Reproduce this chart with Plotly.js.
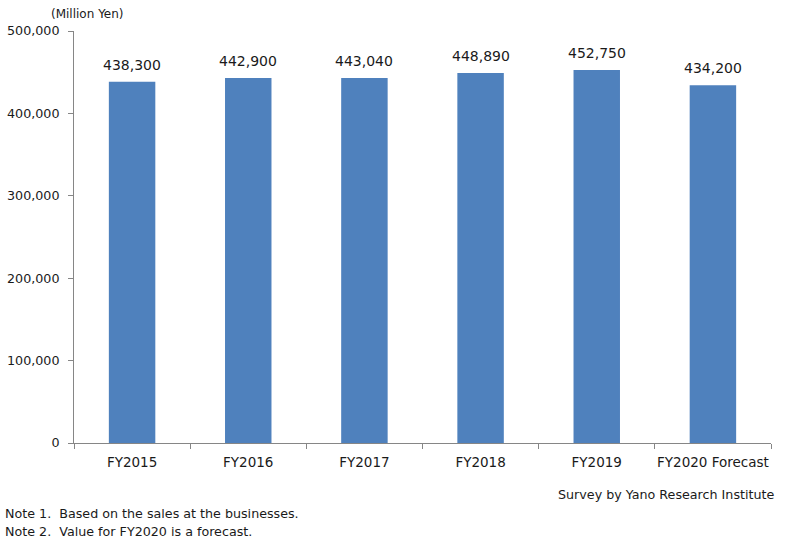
<!DOCTYPE html>
<html>
<head>
<meta charset="utf-8">
<script src="https://cdn.plot.ly/plotly-3.0.1.min.js"></script>
<style>html,body{margin:0;padding:0;background:#fff;}#chart{width:785px;height:543px;}</style>
</head>
<body>
<div id="chart"></div>
<script>
const categories = ["FY2015", "FY2016", "FY2017", "FY2018", "FY2019", "FY2020 Forecast"];
const values = [438300, 442900, 443040, 448890, 452750, 434200];
const yTickVals = [0, 100000, 200000, 300000, 400000, 500000];
const yTickText = ["0", "100,000", "200,000", "300,000", "400,000", "500,000"];
const unitLabel = "(Million Yen)";
const sourceNote = "Survey by Yano Research Institute";
const notes = ["Note 1.  Based on the sales at the businesses.", "Note 2.  Value for FY2020 is a forecast."];

const FONT = "DejaVu Sans, Verdana, sans-serif";
const fmt = v => v.toLocaleString("en-US");

const annotations = values.map((v, i) => ({
  x: categories[i], y: v, xref: "x", yref: "y",
  text: fmt(v), showarrow: false, yanchor: "bottom", yshift: 7,
  font: {family: FONT, size: 14, color: "#1a1a1a"}
}));
annotations.push({
  x: 0, y: 1.0, xref: "paper", yref: "paper", xanchor: "left", yanchor: "bottom", xshift: -25, yshift: 8,
  text: unitLabel, showarrow: false, font: {family: FONT, size: 12, color: "#1a1a1a"}
});
annotations.push({
  x: 1, y: 0, xref: "paper", yref: "paper", xanchor: "right", yanchor: "top", xshift: 5, yshift: -42,
  text: sourceNote, showarrow: false, font: {family: FONT, size: 12.7, color: "#1a1a1a"}
});
notes.forEach((n, i) => annotations.push({
  x: 0, y: 0, xref: "paper", yref: "paper", xanchor: "left", yanchor: "top", xshift: -71, yshift: -61 - 18 * i,
  text: n, showarrow: false, font: {family: FONT, size: 12.7, color: "#1a1a1a"}
}));

Plotly.newPlot("chart", [{
  type: "bar", x: categories, y: values,
  marker: {color: "#4F81BD"}, hoverinfo: "none"
}], {
  width: 785, height: 543,
  margin: {l: 74, r: 14, t: 31, b: 100},
  paper_bgcolor: "#fff", plot_bgcolor: "#fff",
  bargap: 0.6, showlegend: false,
  font: {family: FONT, color: "#1a1a1a"},
  xaxis: {
    type: "category", showline: true, linecolor: "#868686", linewidth: 1,
    ticks: "outside", tickson: "boundaries", ticklen: 5, tickcolor: "#868686", tickangle: 0,
    ticklabelstandoff: 7,
    tickfont: {family: FONT, size: 13.5, color: "#1a1a1a"}, showgrid: false, zeroline: false
  },
  yaxis: {
    range: [0, 500000], tickvals: yTickVals, ticktext: yTickText,
    showline: true, linecolor: "#868686", linewidth: 1,
    ticks: "outside", ticklen: 5, tickcolor: "#868686", ticklabelstandoff: 6,
    tickfont: {family: FONT, size: 12.7, color: "#1a1a1a"}, showgrid: false, zeroline: false
  },
  annotations: annotations
}, {staticPlot: true});
</script>
</body>
</html>
